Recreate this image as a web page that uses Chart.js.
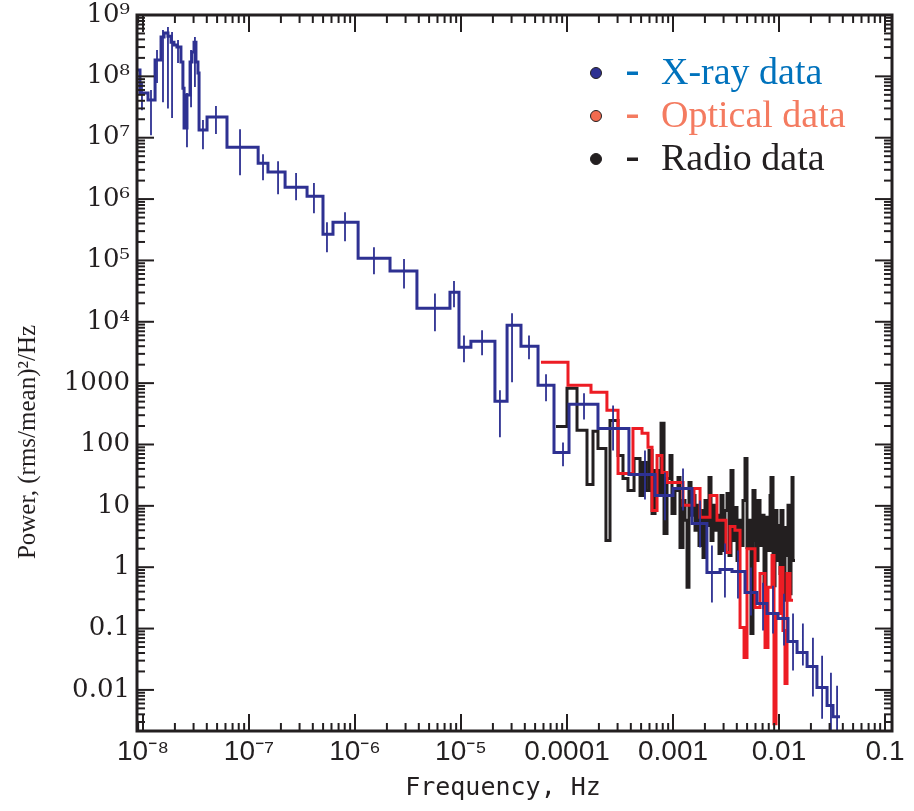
<!DOCTYPE html>
<html>
<head>
<meta charset="utf-8">
<script src="https://cdn.jsdelivr.net/npm/chart.js@4.4.1/dist/chart.umd.min.js"></script>
<style>
  html, body { margin: 0; padding: 0; background: #fff; }
  #wrap { position: relative; width: 914px; height: 811px; }
</style>
</head>
<body>
<div id="wrap"><canvas id="psdChart"></canvas></div>
<script>
// X-ray power spectrum: bin edges (Hz), power per bin, error bars
const xrayEdges = [8.78e-9, 9.37e-9, 1.115e-8, 1.30e-8, 1.48e-8, 1.58e-8, 1.72e-8, 1.84e-8, 1.96e-8, 2.09e-8,
  2.28e-8, 2.38e-8, 2.44e-8, 2.60e-8, 2.78e-8, 2.90e-8, 3.03e-8, 3.16e-8, 3.30e-8, 3.38e-8,
  4.02e-8, 6.20e-8, 1.22e-7, 1.51e-7, 2.19e-7, 3.53e-7, 4.99e-7, 6.20e-7, 1.07e-6, 2.14e-6,
  3.84e-6, 7.87e-6, 9.57e-6, 1.24e-5, 2.09e-5, 2.72e-5, 3.68e-5, 5.33e-5, 7.54e-5, 1.045e-4,
  1.96e-4, 3.84e-4, 6.77e-4, 1.0e-3, 1.51e-3, 2.09e-3, 2.78e-3, 3.60e-3, 4.78e-3, 6.20e-3,
  7.71e-3, 9.79e-3, 1.216e-2, 1.48e-2, 1.84e-2, 2.28e-2, 2.84e-2, 3.23e-2, 3.76e-2];
const xrayPower = [1.27e8, 5.35e7, 4.1e7, 1.85e8, 4.38e8, 5.1e8, 4.5e8, 3.6e8, 3.25e8, 3.0e8,
  1.71e8, 6.4e7, 1.44e7, 4.95e7, 1.71e8, 2.5e8, 3.6e8, 1.71e8, 1.13e8, 1.33e7,
  2.17e7, 7.0e6, 3.85e6, 2.75e6, 1.56e6, 1.11e6, 2.67e5, 4.2e5, 1.09e5, 6.7e4,
  1.66e4, 3.03e4, 3840, 4810, 505, 8770, 3980, 920, 74, 451,
  183, 32.5, 14.8, 19.2, 5.16, 0.82, 0.92, 0.85, 0.386, 0.256,
  0.176, 0.146, 0.0614, 0.0406, 0.024, 0.0109, 0.00555, 0.00366];
const xrayErrFreq = [9.78e-9, 1.19e-8, 1.356e-8, 1.544e-8, 1.72e-8, 1.88e-8, 2.14e-8, 2.60e-8, 2.84e-8, 3.09e-8,
  3.38e-8, 3.68e-8, 4.88e-8, 8.23e-8, 1.356e-7, 1.88e-7, 2.78e-7, 4.10e-7, 5.44e-7, 8.05e-7,
  1.51e-6, 2.90e-6, 5.68e-6, 8.59e-6, 1.067e-5, 1.58e-5, 2.33e-5, 3.03e-5, 4.38e-5, 6.34e-5,
  9.17e-5, 1.447e-4, 2.72e-4, 5.44e-4, 8.40e-4, 1.243e-3, 1.80e-3, 2.33e-3, 3.09e-3, 4.10e-3,
  5.44e-3, 7.07e-3, 8.78e-3, 1.115e-2, 1.356e-2, 1.68e-2, 2.09e-2, 2.55e-2, 3.09e-2, 3.53e-2];
const xrayErrLo = [2.8e7, 1.1e7, 7.8e7, 3.8e7, 3.0e7, 2.1e7, 1.65e8, 7.0e6, 3.15e7, 6.7e7,
  3.7e7, 6.5e6, 1.15e7, 2.45e6, 2.03e6, 1.2e6, 9.6e5, 5.9e5, 1.36e5, 2.06e5,
  5.96e4, 3.5e4, 7000, 1.73e4, 2180, 2840, 131, 1030, 2440, 505,
  44, 256, 80, 12.7, 5.8, 8.4, 2.1, 0.265, 0.32, 0.31,
  0.163, 0.093, 0.083, 0.053, 0.0207, 0.0249, 0.0078, 0.0034, 0.0015, 0.0015];
const xrayErrHi = [7.8e7, 6.0e7, 2.7e8, 5.7e8, 6.4e8, 5.3e8, 3.9e8, 5.35e7, 2.7e8, 4.4e8,
  1.13e8, 1.94e7, 3.3e7, 1.38e7, 5.4e6, 4.15e6, 2.65e6, 1.82e6, 4.2e5, 6.1e5,
  1.64e5, 1.05e5, 2.9e4, 4.6e4, 6000, 7300, 764, 1.38e4, 6000, 1390,
  108, 682, 434, 80, 35, 40.7, 12.2, 2.26, 2.44, 1.87,
  0.99, 0.56, 0.50, 0.37, 0.176, 0.121, 0.071, 0.036, 0.019, 0.0117];

// Optical power spectrum
const opticalEdges = [5.68e-5, 1.022e-4, 1.684e-4, 2.38e-4, 3.03e-4, 4.19e-4, 5.10e-4, 5.81e-4, 6.34e-4, 7.07e-4,
  7.87e-4, 8.78e-4, 1.243e-3, 1.578e-3, 1.80e-3, 2.235e-3, 2.60e-3, 3.16e-3, 3.45e-3, 3.84e-3,
  4.29e-3, 4.68e-3, 4.99e-3, 5.94e-3, 6.62e-3, 7.38e-3, 7.87e-3, 8.59e-3, 8.97e-3, 9.37e-3,
  1.022e-2, 1.09e-2, 1.139e-2, 1.19e-2, 1.27e-2, 1.356e-2];
const opticalPower = [2180, 920, 708, 360, 33.8, 183, 152, 90, 8.4, 66,
  35, 24, 10.2, 19.2, 6.5, 14.8, 5.8, 1.74, 4.6, 4.0,
  0.104, 0.0336, 2.0, 0.22, 0.79, 0.049, 0.47, 1.55, 0.0028, 0.176,
  0.99, 0.093, 0.0127, 0.79, 0.29];

// Radio power spectrum
const radioEdges = [7.87e-5, 1.00e-4, 1.243e-4, 1.544e-4, 1.759e-4, 1.96e-4, 2.33e-4, 2.545e-4, 3.03e-4, 3.375e-4,
  3.76e-4, 4.29e-4, 4.885e-4, 5.21e-4, 5.56e-4, 5.94e-4, 6.34e-4, 6.77e-4, 7.22e-4, 7.71e-4,
  8.23e-4, 8.78e-4, 9.37e-4, 9.78e-4, 1.044e-3, 1.115e-3, 1.164e-3, 1.243e-3, 1.298e-3, 1.356e-3,
  1.415e-3, 1.479e-3, 1.544e-3, 1.613e-3, 1.684e-3, 1.759e-3, 1.837e-3, 1.919e-3, 2.004e-3, 2.093e-3,
  2.186e-3, 2.283e-3, 2.384e-3, 2.49e-3, 2.60e-3, 2.716e-3, 2.837e-3, 2.963e-3, 3.094e-3, 3.232e-3,
  3.375e-3, 3.525e-3, 3.681e-3, 3.845e-3, 4.016e-3, 4.194e-3, 4.38e-3, 4.575e-3, 4.778e-3, 4.99e-3,
  5.21e-3, 5.44e-3, 5.68e-3, 5.94e-3, 6.07e-3, 6.34e-3, 6.62e-3, 6.91e-3, 7.22e-3, 7.54e-3,
  7.87e-3, 8.23e-3, 8.40e-3, 8.78e-3, 9.17e-3, 9.57e-3, 9.78e-3, 1.022e-2, 1.044e-2, 1.09e-2,
  1.139e-2, 1.164e-2, 1.216e-2, 1.243e-2, 1.298e-2, 1.327e-2, 1.356e-2, 1.415e-2];
const radioPower = [197, 822, 170, 22.3, 164, 86, 2.73, 247, 66, 28,
  17.8, 59, 14.8, 51, 17.8, 80, 7.5, 37.8, 14.8, 221,
  3.55, 28, 66, 7.5, 17.8, 29, 2.1, 12.2, 5.8, 0.47,
  24, 7.0, 14.8, 4.0, 10.2, 2.26, 8.4, 1.44, 12.2, 4.8,
  29, 2.73, 10.2, 4.0, 7.0, 1.67, 14.8, 1.87, 8.4, 15.9,
  1.55, 37.8, 2.73, 9.4, 1.29, 5.8, 2.26, 12.2, 59, 2.1,
  5.8, 0.083, 17.8, 2.73, 1.29, 12.2, 2.26, 7.0, 0.22, 6.5,
  1.87, 14.8, 29, 0.50, 8.4, 1.29, 4.8, 0.79, 8.4, 0.29,
  4.45, 1.55, 10.2, 0.37, 4.0, 29, 1.29];

const xTickValues = [1e-8, 1e-7, 1e-6, 1e-5, 1e-4, 1e-3, 1e-2, 1e-1];
const xTickLabels = ['10\u207B\u2078', '10\u207B\u2077', '10\u207B\u2076', '10\u207B\u2075', '0.0001', '0.001', '0.01', '0.1'];
const yTickValues = [1e9, 1e8, 1e7, 1e6, 1e5, 1e4, 1000, 100, 10, 1, 0.1, 0.01];
const yTickLabels = ['10\u2079', '10\u2078', '10\u2077', '10\u2076', '10\u2075', '10\u2074', '1000', '100', '10', '1', '0.1', '0.01'];
const xTitle = 'Frequency, Hz';
const yTitle = 'Power, (rms/mean)\u00B2/Hz';

const seriesNames = ['X-ray data', 'Optical data', 'Radio data'];
const lineColors = ['#2E3192', '#ED1C24', '#231F20'];
const dotColors = ['#2E3192', '#F26B4F', '#231F20'];
const textColors = ['#0072BC', '#F47B60', '#231F20'];

// step histogram: each power holds from its edge to the next one
function steps(edges, power) {
  return edges.map((f, i) => ({ x: f, y: power[Math.min(i, power.length - 1)] }));
}
function errorBars(freq, lo, hi) {
  return freq.flatMap((f, i) => [{ x: f, y: lo[i] }, { x: f, y: hi[i] }, { x: f, y: null }]);
}

const frameTicks = {
  id: 'frameTicks',
  afterDatasetsDraw(chart) {
    const { ctx, chartArea: a, scales: { x, y } } = chart;
    ctx.save();
    ctx.strokeStyle = '#231F20';
    ctx.lineWidth = 2;
    const seg = (x1, y1, x2, y2) => { ctx.beginPath(); ctx.moveTo(x1, y1); ctx.lineTo(x2, y2); ctx.stroke(); };
    for (let k = -9; k <= 0; k++) {
      for (let m = 1; m <= 9; m++) {
        const v = m * Math.pow(10, k);
        if (v < x.min || v > x.max) continue;
        const p = x.getPixelForValue(v);
        const len = m === 1 ? 17 : 8;
        seg(p, a.bottom, p, a.bottom - len);
        seg(p, a.top, p, a.top + len);
      }
    }
    for (let k = -3; k <= 9; k++) {
      for (let m = 1; m <= 9; m++) {
        const v = m * Math.pow(10, k);
        if (v < y.min || v > y.max) continue;
        const p = y.getPixelForValue(v);
        const len = m === 1 ? 17 : 8;
        seg(a.left, p, a.left + len, p);
        seg(a.right, p, a.right - len, p);
      }
    }
    ctx.lineWidth = 3;
    ctx.strokeRect(a.left, a.top, a.right - a.left, a.bottom - a.top);
    ctx.restore();
  }
};

// axis titles and legend
const labels = {
  id: 'labels',
  afterDraw(chart) {
    const { ctx, chartArea: a } = chart;
    ctx.save();
    ctx.fillStyle = '#231F20';
    ctx.textAlign = 'center';
    ctx.textBaseline = 'middle';
    ctx.font = '25px "DejaVu Sans Mono", "Liberation Mono", monospace';
    ctx.fillText(xTitle, a.left + 366, a.bottom + 57);
    ctx.save();
    ctx.translate(28, a.top + 427);
    ctx.rotate(-Math.PI / 2);
    ctx.font = '25px "Liberation Serif", "DejaVu Serif", serif';
    ctx.fillText(yTitle, 0, 0);
    ctx.restore();

    ctx.textAlign = 'left';
    ctx.textBaseline = 'alphabetic';
    ctx.font = '38px "Liberation Serif", "DejaVu Serif", serif';
    seriesNames.forEach((name, i) => {
      const cy = a.top + 58 + i * 43;
      ctx.beginPath();
      ctx.arc(a.left + 459, cy, 5.5, 0, Math.PI * 2);
      ctx.fillStyle = dotColors[i];
      ctx.fill();
      ctx.lineWidth = 1;
      ctx.strokeStyle = '#231F20';
      ctx.stroke();
      ctx.fillStyle = textColors[i];
      ctx.fillRect(a.left + 490, cy - 1.5, 11, 3.5);
      ctx.fillText(name, a.left + 524, cy + 11);
    });
    ctx.restore();
  }
};

new Chart(document.getElementById('psdChart'), {
  type: 'line',
  data: {
    datasets: [
      { data: errorBars(xrayErrFreq, xrayErrLo, xrayErrHi), borderColor: lineColors[0], borderWidth: 1.8 },
      { data: steps(xrayEdges, xrayPower), borderColor: lineColors[0], borderWidth: 3, stepped: true },
      { data: steps(opticalEdges, opticalPower), borderColor: lineColors[1], borderWidth: 3, stepped: true },
      { data: steps(radioEdges, radioPower), borderColor: lineColors[2], borderWidth: 3, stepped: true }
    ]
  },
  options: {
    responsive: true,
    maintainAspectRatio: false,
    animation: false,
    layout: { padding: { top: 15, right: 22, bottom: 0, left: 0 } },
    elements: {
      point: { radius: 0, hoverRadius: 0 },
      line: { borderJoinStyle: 'miter', borderCapStyle: 'butt', tension: 0, fill: false }
    },
    plugins: { legend: { display: false }, tooltip: { enabled: false } },
    scales: {
      x: {
        type: 'logarithmic',
        min: 8.78e-9,
        max: 0.1164,
        afterBuildTicks: s => { s.ticks = xTickValues.map(v => ({ value: v })); },
        afterFit: s => { s.height = 80; s.paddingLeft = 0; s.paddingRight = 0; },
        grid: { display: false, drawTicks: false },
        border: { display: false },
        ticks: {
          autoSkip: false, maxRotation: 0, minRotation: 0, padding: 4, color: '#231F20',
          font: { family: '"Liberation Sans", Arial, sans-serif', size: 28 },
          callback: (v, i) => xTickLabels[i]
        }
      },
      y: {
        type: 'logarithmic',
        min: 0.00214,
        max: 1e9,
        afterBuildTicks: s => { s.ticks = yTickValues.map(v => ({ value: v })); },
        afterFit: s => { s.width = 137; s.paddingTop = 0; s.paddingBottom = 0; },
        grid: { display: false, drawTicks: false },
        border: { display: false },
        ticks: {
          autoSkip: false, padding: 7, color: '#231F20',
          font: { family: '"DejaVu Serif", serif', size: 26 },
          callback: (v, i) => yTickLabels[i]
        }
      }
    }
  },
  plugins: [frameTicks, labels]
});
</script>
</body>
</html>
